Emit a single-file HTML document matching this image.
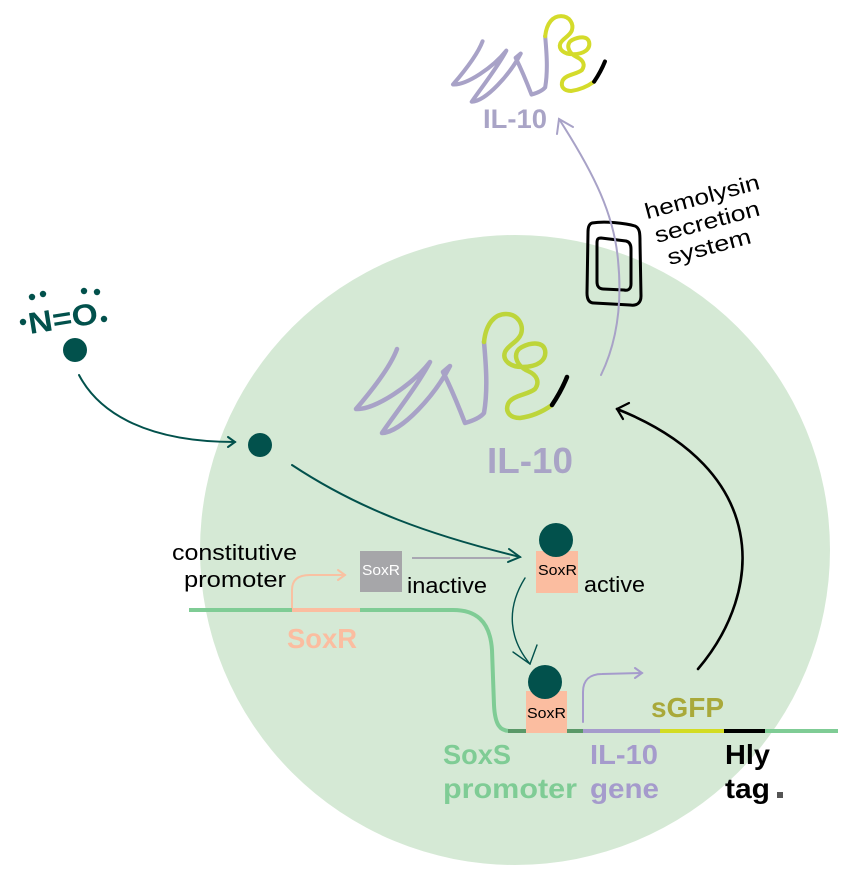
<!DOCTYPE html>
<html><head><meta charset="utf-8"><style>
html,body{margin:0;padding:0;background:#fff;}
svg{display:block;}
text{font-family:"Liberation Sans",sans-serif;}
</style></head><body>
<svg width="853" height="891" viewBox="0 0 853 891" xmlns="http://www.w3.org/2000/svg">
<rect width="853" height="891" fill="#fff"/>
<circle cx="515" cy="550" r="315" fill="#d5e9d5"/>

<!-- NO molecule -->
<g fill="#02514c">
<text x="0" y="0" font-size="30" font-weight="bold" textLength="70" lengthAdjust="spacingAndGlyphs" transform="translate(30,334) rotate(-9)">N=O</text>
<circle cx="32" cy="297" r="3.2"/><circle cx="43" cy="294" r="3.2"/>
<circle cx="23" cy="322" r="3.2"/>
<circle cx="84" cy="291" r="3.2"/><circle cx="97" cy="292" r="3.2"/>
<circle cx="104" cy="319" r="3.2"/>
<circle cx="75" cy="350" r="12"/>
<circle cx="260" cy="445" r="12"/>
</g>

<!-- teal arrows -->
<g fill="none" stroke="#02514c" stroke-width="2" stroke-linecap="round">
<path d="M79,375 C100,415 150,442 235,442"/>
<path d="M228,437 L235,442 L228,447"/>
<path d="M292,465 C360,510 430,535 520,557"/>
<path d="M509,549 L520,557 L508,562"/>
<path d="M525,578 C505,610 510,640 530,664" stroke-width="1.4"/>
<path d="M513,652 L530,664 L537,645" stroke-width="1.4"/>
</g>

<!-- gray line inactive->active -->
<line x1="412" y1="558" x2="510" y2="558" stroke="#a8a7b2" stroke-width="2"/>

<!-- middle protein -->
<g fill="none" stroke-width="4.5" stroke-linecap="round" stroke-linejoin="round">
<path stroke="#a8a2c7" d="M397,349 C390,368 368,395 356,409 C375,410 412,385 430,362 C418,385 392,418 382,433 C402,432 435,395 450,366 L443,372 C452,390 460,410 465,423 C472,421 480,418 484,413 C488,390 486,365 484,342"/>
<path stroke="#bdd53a" d="M484,342 C486,323 495,314 506,314 C518,314 524,325 521,334 C518,342 508,345 505,352 C502,360 510,367 522,367 C538,367 547,360 545,350 C543,342 532,342 522,347 C512,352 515,365 528,371 C537,375 540,382 535,389 C528,395 512,395 508,404 C505,412 510,418 520,418 C535,416 545,410 552,405"/>
<path stroke="#000" d="M552,405 C558,396 563,387 567,377"/>
</g>
<text x="487" y="473" font-size="36" font-weight="bold" fill="#a9a4c6" textLength="86" lengthAdjust="spacingAndGlyphs">IL-10</text>

<!-- top protein -->
<g transform="translate(196.7,-210) scale(0.72)" fill="none" stroke-width="5.6" stroke-linecap="round" stroke-linejoin="round">
<path stroke="#a8a2c7" d="M397,349 C390,368 368,395 356,409 C375,410 412,385 430,362 C418,385 392,418 382,433 C402,432 435,395 450,366 L443,372 C452,390 460,410 465,423 C472,421 480,418 484,413 C488,390 486,365 484,342"/>
<path stroke="#d4db2b" d="M484,342 C486,323 495,314 506,314 C518,314 524,325 521,334 C518,342 508,345 505,352 C502,360 510,367 522,367 C538,367 547,360 545,350 C543,342 532,342 522,347 C512,352 515,365 528,371 C537,375 540,382 535,389 C528,395 512,395 508,404 C505,412 510,418 520,418 C535,416 545,410 552,405"/>
<path stroke="#000" d="M552,405 C558,396 563,387 567,377"/>
</g>
<text x="483" y="128" font-size="27" font-weight="bold" fill="#a9a4c6" textLength="64" lengthAdjust="spacingAndGlyphs">IL-10</text>

<!-- hemolysin secretion system -->
<g fill="none" stroke="#000" stroke-width="3" stroke-linejoin="round">
<path d="M592,223 C605,221 625,223 635,226 C640,228 640,234 640,242 L641,296 C641,303 637,306 630,305 L594,303 C589,303 587,299 587,293 L588,232 C588,227 589,224 592,223 Z"/>
<path d="M601,238 L626,241 C630,242 631,245 631,249 L631,284 C631,289 628,291 624,290 L603,289 C599,289 597,286 597,282 L597,243 C597,239 598,238 601,238 Z"/>
</g>
<g fill="none" stroke="#a8a2c7" stroke-width="2" stroke-linecap="round">
<path d="M601,375 C618,340 622,300 618,260 C614,215 595,175 559,119"/>
<path d="M573,127 L559,119 L557,134"/>
</g>
<g font-size="22" fill="#000">
<text x="0" y="0" text-anchor="middle" textLength="118" lengthAdjust="spacingAndGlyphs" transform="translate(704,204) rotate(-15)">hemolysin</text>
<text x="0" y="0" text-anchor="middle" textLength="108" lengthAdjust="spacingAndGlyphs" transform="translate(709,229) rotate(-15)">secretion</text>
<text x="0" y="0" text-anchor="middle" textLength="86" lengthAdjust="spacingAndGlyphs" transform="translate(711,254) rotate(-15)">system</text>
</g>

<!-- black arrow -->
<g fill="none" stroke="#000" stroke-linecap="round">
<path d="M698,669 C765,590 770,470 617,409" stroke-width="2.6"/>
<path d="M629,403 L617,409 L623,419" stroke-width="2.2"/>
</g>

<!-- constitutive promoter -->
<text x="172" y="560" font-size="22" fill="#000" textLength="125" lengthAdjust="spacingAndGlyphs">constitutive</text>
<text x="184" y="587" font-size="22" fill="#000" textLength="102" lengthAdjust="spacingAndGlyphs">promoter</text>
<g fill="none" stroke="#f9c1a2" stroke-width="2" stroke-linecap="round">
<path d="M292,608 L292,590 C292,580 298,575 310,575 L345,575"/>
<path d="M338,570 L345,575 L338,580"/>
</g>

<!-- inactive SoxR -->
<rect x="360" y="551" width="42" height="41" fill="#a6a6a9"/>
<text x="362" y="575" font-size="15" fill="#fff" textLength="38" lengthAdjust="spacingAndGlyphs">SoxR</text>
<text x="407" y="593" font-size="22" fill="#000" textLength="80" lengthAdjust="spacingAndGlyphs">inactive</text>

<!-- active SoxR -->
<rect x="536" y="551" width="42" height="42" fill="#fbbda0"/>
<circle cx="556" cy="540" r="17" fill="#02514c"/>
<text x="538" y="575" font-size="15" fill="#000" textLength="39" lengthAdjust="spacingAndGlyphs">SoxR</text>
<text x="584" y="592" font-size="22" fill="#000" textLength="61" lengthAdjust="spacingAndGlyphs">active</text>

<!-- DNA -->
<g fill="none" stroke-width="4">
<path stroke="#7fcc95" d="M189,610 L453,610 C475,610 490,620 492,650 L494,705 C495,725 500,731 510,731"/>
<line x1="292" y1="610" x2="360" y2="610" stroke="#fbbda0"/>
<line x1="508" y1="731" x2="527" y2="731" stroke="#5a9868"/>
<line x1="566" y1="731" x2="583" y2="731" stroke="#5a9868"/>
<line x1="583" y1="731" x2="660" y2="731" stroke="#a59bcc"/>
<line x1="660" y1="731" x2="724" y2="731" stroke="#d3dc22"/>
<line x1="724" y1="731" x2="765" y2="731" stroke="#000"/>
<line x1="765" y1="731" x2="838" y2="731" stroke="#7fcc95"/>
</g>
<text x="287" y="648" font-size="28" font-weight="bold" fill="#fbbda0" textLength="70" lengthAdjust="spacingAndGlyphs">SoxR</text>

<!-- bottom SoxR bound -->
<rect x="526" y="691" width="41" height="42" fill="#fbbda0"/>
<circle cx="545" cy="682" r="17" fill="#02514c"/>
<text x="527" y="718" font-size="15" fill="#000" textLength="39" lengthAdjust="spacingAndGlyphs">SoxR</text>

<!-- purple promoter arrow -->
<g fill="none" stroke="#a59bcc" stroke-width="2" stroke-linecap="round">
<path d="M583,722 L583,692 C583,680 590,674 602,674 L642,673"/>
<path d="M635,668 L642,673 L635,678"/>
</g>

<!-- labels -->
<g font-size="28" font-weight="bold">
<text x="651" y="717" fill="#a9a93a" textLength="73" lengthAdjust="spacingAndGlyphs">sGFP</text>
<text x="443" y="764" fill="#7fcc95" textLength="68" lengthAdjust="spacingAndGlyphs">SoxS</text>
<text x="443" y="798" fill="#7fcc95" textLength="134" lengthAdjust="spacingAndGlyphs">promoter</text>
<text x="590" y="764" fill="#a59bcc" textLength="68" lengthAdjust="spacingAndGlyphs">IL-10</text>
<text x="590" y="798" fill="#a59bcc" textLength="69" lengthAdjust="spacingAndGlyphs">gene</text>
<text x="725" y="764" fill="#000" textLength="45" lengthAdjust="spacingAndGlyphs">Hly</text>
<text x="725" y="798" fill="#000" textLength="45" lengthAdjust="spacingAndGlyphs">tag</text>
</g>
<rect x="777" y="792" width="6" height="6" fill="#555"/>
</svg>
</body></html>
